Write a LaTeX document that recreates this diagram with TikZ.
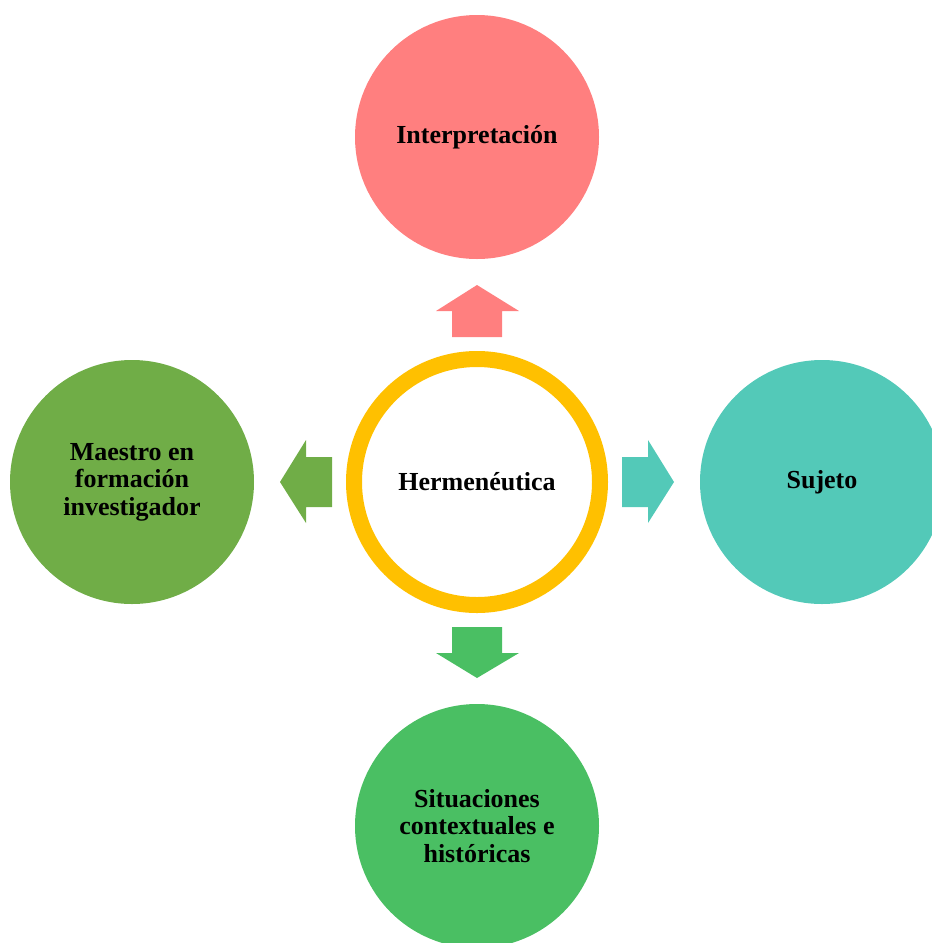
\documentclass[tikz,border=0pt]{standalone}
\usepackage{fontspec}
\setmainfont{Liberation Serif}
\definecolor{cpink}{HTML}{FF7F7F}
\definecolor{cteal}{HTML}{53C9B8}
\definecolor{cgreenA}{HTML}{70AD47}
\definecolor{cgreenB}{HTML}{4ABF63}
\definecolor{cring}{HTML}{FFC000}
\tikzset{
  bubble/.style={circle, minimum size=244pt, inner sep=0pt, align=center,
    font=\fontsize{26}{27.5}\selectfont\bfseries, text=black},
  blockarrow/.style={draw=none}
}
\begin{document}
\begin{tikzpicture}[x=1pt,y=-1pt]
\useasboundingbox (0,0) rectangle (932,943);
% outer circles
\node[bubble, fill=cpink] (interp) at (477,137) {Interpretación};
\node[bubble, fill=cteal] (sujeto) at (822,482) {Sujeto};
\node[bubble, fill=cgreenA] (maestro) at (132,482) {Maestro en\\formación\\investigador};
\node[bubble, fill=cgreenB] (situ) at (477,826) {Situaciones\\contextuales e\\históricas};
% centre ring
\node[circle, minimum size=246pt, inner sep=0pt, draw=cring, line width=16pt, fill=white,
  font=\fontsize{26}{27.5}\selectfont\bfseries] (herm) at (477,482) {Hermenéutica};
% block arrows
\fill[cpink] (452,337) -- (452,311) -- (436,311) -- (477,285) -- (519,311) -- (502,311) -- (502,337) -- cycle;
\fill[cgreenB] (452,627) -- (452,653) -- (436,653) -- (477,678) -- (519,653) -- (502,653) -- (502,627) -- cycle;
\fill[cgreenA] (332,457) -- (306,457) -- (306,440) -- (280,482) -- (306,523) -- (306,507) -- (332,507) -- cycle;
\fill[cteal] (622,457) -- (648,457) -- (648,440) -- (674,482) -- (648,523) -- (648,507) -- (622,507) -- cycle;
\end{tikzpicture}
\end{document}
